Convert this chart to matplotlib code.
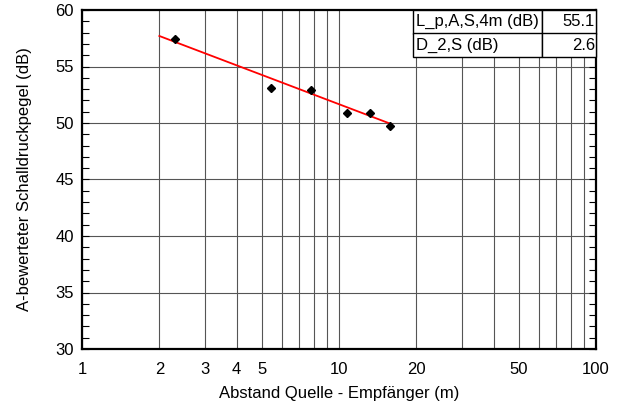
import numpy as np
import matplotlib.pyplot as plt
from matplotlib.ticker import FixedLocator, FixedFormatter, NullFormatter, MultipleLocator

plt.rcParams['font.family'] = ['Liberation Sans', 'DejaVu Sans']

# measured points
abstand = [2.30, 5.44, 7.75, 10.7, 13.2, 15.8]
pegel = [57.4, 53.1, 52.9, 50.9, 50.9, 49.7]

# regression result
lp_4m = 55.1
d2s = 2.6
fit_range = [2.0, 16.0]

xticks = [1, 2, 3, 4, 5, 10, 20, 50, 100]
grid_x = [1, 2, 3, 4, 5, 6, 7, 8, 9, 10, 20, 30, 40, 50, 60, 70, 80, 90, 100]

W, H = 620, 405
L, R, T, B = 82, 596, 10, 349

fig = plt.figure(figsize=(6.2, 4.05), dpi=100)
ax = fig.add_axes([L / W, 1 - B / H, (R - L) / W, (B - T) / H])

ax.set_xscale('log')
ax.set_xlim(1, 100)
ax.set_ylim(30, 60)

for gx in grid_x:
    ax.axvline(gx, color='#555555', lw=0.8, zorder=1)
for gy in range(35, 60, 5):
    ax.axhline(gy, color='#555555', lw=0.8, zorder=1)

xf = np.array(fit_range)
yf = lp_4m - d2s * np.log2(xf / 4.0)
ax.plot(xf, yf, color='#ff0000', lw=1.3, zorder=3)
ax.plot(abstand, pegel, 'D', color='black', ms=4.5, zorder=4)

ax.xaxis.set_major_locator(FixedLocator(xticks))
ax.xaxis.set_major_formatter(FixedFormatter([str(t) for t in xticks]))
ax.xaxis.set_minor_formatter(NullFormatter())
ax.tick_params(axis='x', which='both', length=0, pad=9, labelsize=12)

ax.yaxis.set_major_locator(MultipleLocator(5))
ax.yaxis.set_minor_locator(MultipleLocator(1))
ax.tick_params(axis='y', which='both', direction='in', left=True, right=True,
               length=5, width=0.8, labelsize=12, pad=6)

for s in ax.spines.values():
    s.set_linewidth(1.6)

ax.set_xlabel('Abstand Quelle - Empfänger (m)', fontsize=12, labelpad=7)
ax.set_ylabel('A-bewerteter Schalldruckpegel (dB)', fontsize=12, labelpad=17)

tl = (413 - L) / (R - L)
th = 47 / (B - T)
tab = ax.table(cellText=[['L_p,A,S,4m (dB)', '%.1f' % lp_4m],
                         ['D_2,S (dB)', '%.1f' % d2s]],
               cellLoc='left', colWidths=[129, 54],
               bbox=[tl, 1 - th, 1 - tl, th])
tab.auto_set_font_size(False)
for (r, c), cell in tab.get_celld().items():
    cell.set_fontsize(12)
    cell.set_linewidth(1.0)
    cell.set_facecolor('white')
    cell.PAD = 0.02
    if c == 1:
        cell.get_text().set_ha('right')
        cell._loc = 'right'
tab.set_zorder(5)

fig.savefig('out.png', dpi=100)
